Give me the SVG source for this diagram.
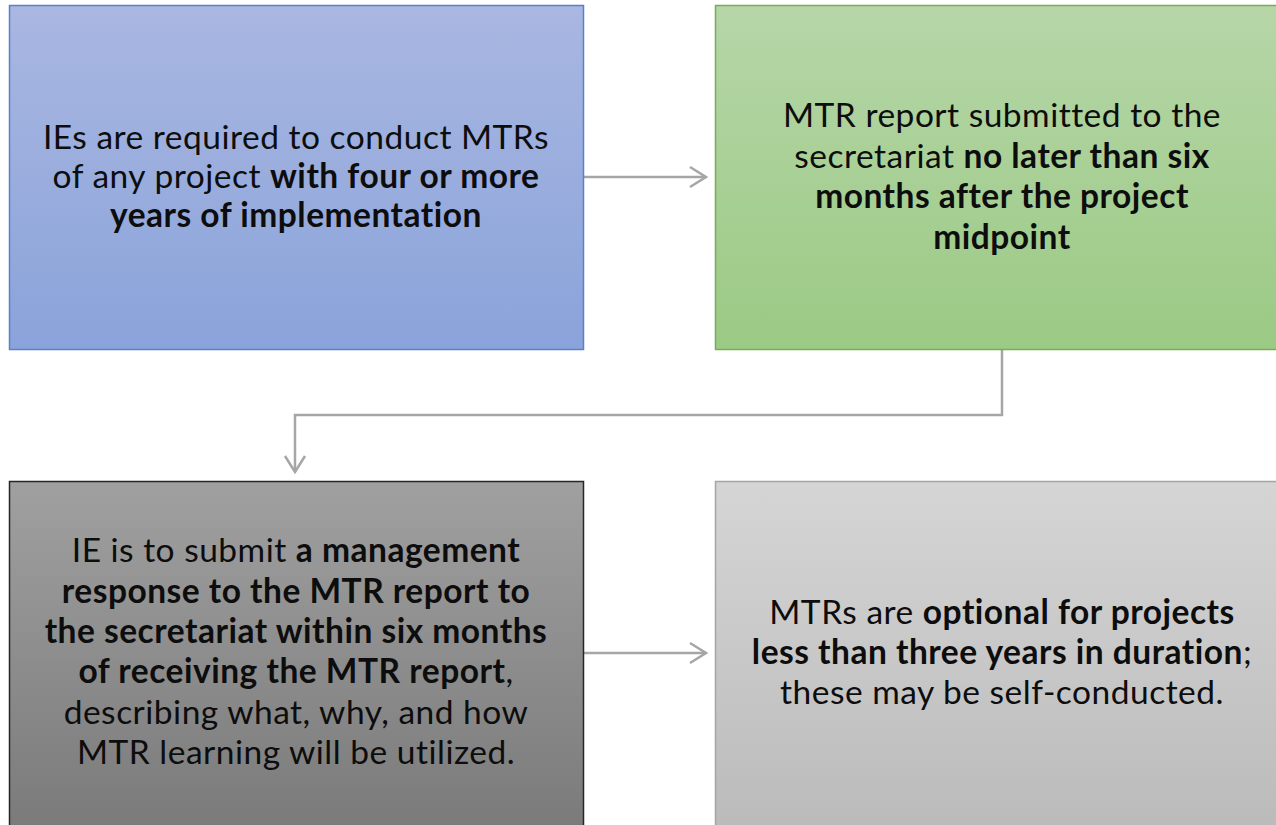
<svg xmlns="http://www.w3.org/2000/svg" width="1276" height="825" viewBox="0 0 1276 825">
  <style>
    .lbl { font-family: Lato, "Open Sans", "Liberation Sans", sans-serif; font-size: 33.5px; letter-spacing: 0.5px; fill: #0d0d0d; text-anchor: middle; }
    .b { font-weight: bold; }
    .conn { fill: none; stroke: #a6a6a6; stroke-width: 2.5; }
  </style>
  <defs>
    <linearGradient id="gBlue" x1="0" y1="0" x2="0" y2="1">
      <stop offset="0" stop-color="#a9b7e1"/>
      <stop offset="1" stop-color="#8aa3da"/>
    </linearGradient>
    <linearGradient id="gGreen" x1="0" y1="0" x2="0" y2="1">
      <stop offset="0" stop-color="#b6d6a8"/>
      <stop offset="1" stop-color="#9bca84"/>
    </linearGradient>
    <linearGradient id="gDark" x1="0" y1="0" x2="0" y2="1">
      <stop offset="0" stop-color="#a0a0a0"/>
      <stop offset="1" stop-color="#797979"/>
    </linearGradient>
    <linearGradient id="gLight" x1="0" y1="0" x2="0" y2="1">
      <stop offset="0" stop-color="#d5d5d5"/>
      <stop offset="1" stop-color="#bababa"/>
    </linearGradient>
    <marker id="chev" viewBox="0 0 20 24" refX="18" refY="12" markerWidth="20" markerHeight="24" markerUnits="userSpaceOnUse" orient="auto">
      <path d="M2,2 L18,12 L2,22" fill="none" stroke="#a6a6a6" stroke-width="2.5"/>
    </marker>
  </defs>

  <!-- connectors -->
  <g id="connectors">
    <path class="conn" d="M584,177 L706,177" marker-end="url(#chev)"/>
    <path class="conn" d="M1002,350 L1002,415 L295,415 L295,472" marker-end="url(#chev)"/>
    <path class="conn" d="M584,653 L706,653" marker-end="url(#chev)"/>
  </g>

  <!-- step 1 -->
  <g id="node-ie-required">
    <rect x="9.5" y="5.5" width="574" height="344" fill="url(#gBlue)" stroke="#5a80cc" stroke-width="1.5"/>
    <text class="lbl" x="296" y="149">IEs are required to conduct MTRs</text>
    <text class="lbl" x="296" y="188">of any project <tspan class="b">with four or more</tspan></text>
    <text class="lbl b" x="296" y="227">years of implementation</text>
  </g>

  <!-- step 2 -->
  <g id="node-report-submitted">
    <rect x="715.5" y="5.5" width="575" height="344" fill="url(#gGreen)" stroke="#76ad55" stroke-width="1.5"/>
    <text class="lbl" x="1002" y="127">MTR report submitted to the</text>
    <text class="lbl" x="1002" y="168">secretariat <tspan class="b">no later than six</tspan></text>
    <text class="lbl b" x="1002" y="208">months after the project</text>
    <text class="lbl b" x="1002" y="249">midpoint</text>
  </g>

  <!-- step 3 -->
  <g id="node-management-response">
    <rect x="9.5" y="481.5" width="574" height="360" fill="url(#gDark)" stroke="#262626" stroke-width="1.5"/>
    <text class="lbl" x="296" y="562">IE is to submit <tspan class="b">a management</tspan></text>
    <text class="lbl b" x="296" y="603">response to the MTR report to</text>
    <text class="lbl b" x="296" y="643">the secretariat within six months</text>
    <text class="lbl" x="296" y="683"><tspan class="b">of receiving the MTR report</tspan>,</text>
    <text class="lbl" x="296" y="724">describing what, why, and how</text>
    <text class="lbl" x="296" y="764">MTR learning will be utilized.</text>
  </g>

  <!-- note on shorter projects -->
  <g id="node-optional">
    <rect x="715.5" y="481.5" width="575" height="360" fill="url(#gLight)" stroke="#a5a5a5" stroke-width="1.5"/>
    <text class="lbl" x="1002" y="624">MTRs are <tspan class="b">optional for projects</tspan></text>
    <text class="lbl" x="1002" y="664"><tspan class="b">less than three years in duration</tspan>;</text>
    <text class="lbl" x="1002" y="704">these may be self-conducted.</text>
  </g>
</svg>
